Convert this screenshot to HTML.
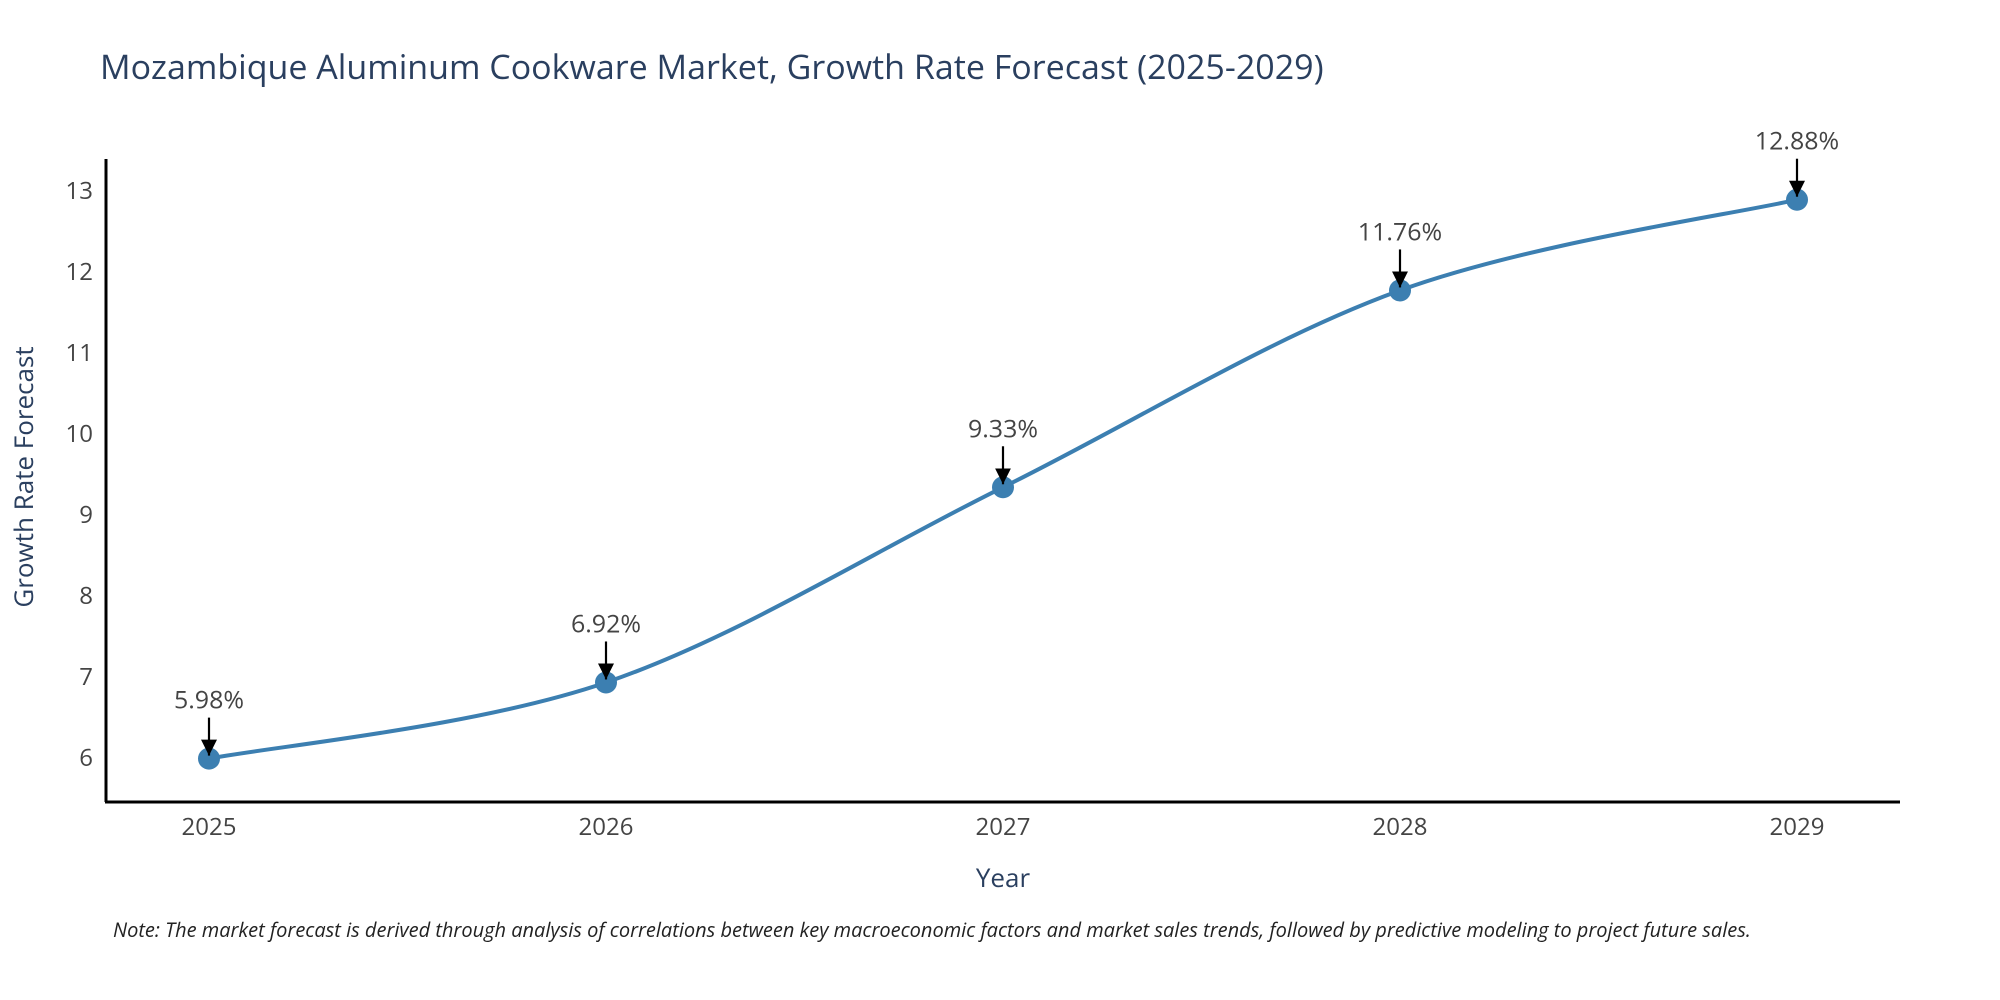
<!DOCTYPE html>
<html><head><meta charset="utf-8"><style>
body{margin:0;background:#fff;}
svg{display:block;font-family:"Open Sans","Liberation Sans",sans-serif;}
</style></head><body>
<svg id="chart" width="2000" height="1000">
<text x="100" y="79" font-size="34" fill="#2a3f5f">Mozambique Aluminum Cookware Market, Growth Rate Forecast (2025-2029)</text>
<g id="yticks"></g>
<g id="xticks"></g>
<line x1="106" y1="159" x2="106" y2="802" stroke="#000" stroke-width="3"/>
<line x1="105" y1="802" x2="1900" y2="802" stroke="#000" stroke-width="3"/>
<path id="line" fill="none" stroke="#3c7fb1" stroke-width="4"/>
<g id="points"></g>
<g id="annots"></g>
<text x="1003" y="887" font-size="26" fill="#2a3f5f" text-anchor="middle">Year</text>
<text transform="translate(33,477) rotate(-90)" font-size="26" fill="#2a3f5f" text-anchor="middle">Growth Rate Forecast</text>
<text x="113" y="937" font-size="20" font-style="italic" fill="#222">Note: The market forecast is derived through analysis of correlations between key macroeconomic factors and market sales trends, followed by predictive modeling to project future sales.</text>
<defs><marker id="arr" viewBox="0 0 10 10" refX="10" refY="5" markerWidth="6" markerHeight="6" orient="auto" markerUnits="userSpaceOnUse"><path d="M0,0 L10,5 L0,10 z" fill="#000"/></marker>
<marker id="arr2" viewBox="0 0 10 10" refX="10" refY="5" markerWidth="16" markerHeight="16" orient="auto" markerUnits="userSpaceOnUse"><path d="M0,0 L10,5 L0,10 z" fill="#000"/></marker></defs>
</svg>
<script>
const years=[2025,2026,2027,2028,2029];
const values=[5.98,6.92,9.33,11.76,12.88];
const labels=["5.98%","6.92%","9.33%","11.76%","12.88%"];
const yTicks=[6,7,8,9,10,11,12,13];
const NS="http://www.w3.org/2000/svg";
const xs=y=>209+(y-2025)*(1797-209)/4;
const ys=v=>757-(v-6)*(757-190)/7;
function mk(t,a,p){const e=document.createElementNS(NS,t);for(const k in a)e.setAttribute(k,a[k]);p.appendChild(e);return e;}
const yt=document.getElementById('yticks');
yTicks.forEach(v=>{const t=mk('text',{x:93,y:ys(v)+9,'font-size':24,fill:'#444','text-anchor':'end'},yt);t.textContent=v;

});
const xt=document.getElementById('xticks');
years.forEach(y=>{const t=mk('text',{x:xs(y),y:835,'font-size':24,fill:'#444','text-anchor':'middle'},xt);t.textContent=y;

});
const P=years.map((y,i)=>[xs(y),ys(values[i])]);
let d='M'+P[0][0]+','+P[0][1];const s=0.33;
for(let i=0;i<P.length-1;i++){const p0=P[Math.max(0,i-1)],p1=P[i],p2=P[i+1],p3=P[Math.min(P.length-1,i+2)];
const c1=[p1[0]+(p2[0]-p0[0])*s/2,p1[1]+(p2[1]-p0[1])*s/2];
const c2=[p2[0]-(p3[0]-p1[0])*s/2,p2[1]-(p3[1]-p1[1])*s/2];
d+=` C${c1[0]},${c1[1]} ${c2[0]},${c2[1]} ${p2[0]},${p2[1]}`;}
document.getElementById('line').setAttribute('d',d);
const pts=document.getElementById('points'),an=document.getElementById('annots');
P.forEach((p,i)=>{const c=mk('circle',{cx:p[0],cy:p[1],r:11,fill:'#3c7fb1'},pts);


const l=mk('line',{x1:p[0],y1:p[1]-41,x2:p[0],y2:p[1]-3,stroke:'#000','stroke-width':2.2,'marker-end':'url(#arr2)'},an);


const t=mk('text',{x:p[0],y:p[1]-50,'font-size':25,fill:'#444','text-anchor':'middle'},an);t.textContent=labels[i];

});
</script>
</body></html>
